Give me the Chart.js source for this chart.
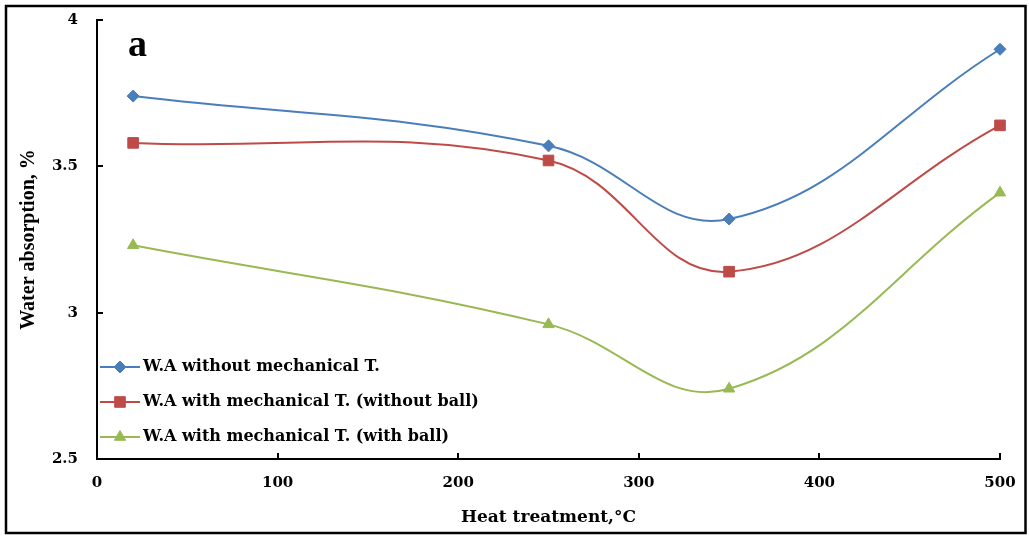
<!DOCTYPE html>
<html>
<head>
<meta charset="utf-8">
<title>Water absorption vs heat treatment</title>
<script src="https://cdn.jsdelivr.net/npm/chart.js@4.4.0/dist/chart.umd.min.js"></script>
<style>
  html, body { margin: 0; padding: 0; background: #fff; }
  #waChart { display: block; }
</style>
</head>
<body>
<canvas id="waChart" width="1029" height="536"></canvas>
<script>
// heat treatment temperature (°C)
const temperatures = [20, 250, 350, 500];
// water absorption (%)
const waWithout = [3.74, 3.57, 3.32, 3.90];
const waNoBall = [3.58, 3.52, 3.14, 3.64];
const waBall = [3.23, 2.96, 2.74, 3.41];
const seriesNames = [
  'W.A without mechanical T.',
  'W.A with mechanical T. (without ball)',
  'W.A with mechanical T. (with ball)'
];
const xTicks = [0, 100, 200, 300, 400, 500];
const yTicks = [2.5, 3, 3.5, 4];

const WIDE = "'DejaVu Serif', serif";
const TIMES = "'Liberation Serif', 'Times New Roman', serif";

window.onload = main;

function main(){
    Chart.defaults.font.family = WIDE;
    Chart.defaults.font.weight = 'bold';
    Chart.defaults.color = '#000';
    lineChart();
}

function toPoints(values){
    return temperatures.map(function(t, i){ return {x: t, y: values[i]}; });
}

function serie(label, values, color, style, radius){
    return {
        label           : label,
        data            : toPoints(values),
        borderColor     : color,
        backgroundColor : color,
        borderWidth     : 2,
        pointStyle      : style,
        pointRadius     : radius,
        pointBorderWidth: 1,
        tension         : 0.4,
        clip            : false
    };
}

// frame, inner ticks, legend and panel letter
var extras = {
    id: 'extras',
    beforeDraw: function(chart){
        var ctx = chart.ctx;
        ctx.save();
        ctx.fillStyle = '#fff';
        ctx.fillRect(0, 0, chart.width, chart.height);
        ctx.restore();
    },
    afterDraw: function(chart){
        var ctx = chart.ctx;
        var area = chart.chartArea;
        var sx = chart.scales.x, sy = chart.scales.y;

        ctx.save();
        ctx.strokeStyle = '#000';
        ctx.lineWidth = 2;
        ctx.beginPath();
        sx.ticks.forEach(function(t){
            var px = Math.round(sx.getPixelForValue(t.value));
            ctx.moveTo(px, area.bottom);
            ctx.lineTo(px, area.bottom - 6);
        });
        sy.ticks.forEach(function(t){
            var py = Math.round(sy.getPixelForValue(t.value));
            ctx.moveTo(area.left, py);
            ctx.lineTo(area.left + 6, py);
        });
        ctx.stroke();

        // legend inside the plot, lower left
        var lx = area.left + 3, ly = area.bottom - 92, step = 35;
        chart.data.datasets.forEach(function(ds, i){
            var y = ly + i * step;
            ctx.strokeStyle = ds.borderColor;
            ctx.fillStyle = ds.backgroundColor;
            ctx.lineWidth = 2;
            ctx.beginPath();
            ctx.moveTo(lx, y);
            ctx.lineTo(lx + 40, y);
            ctx.stroke();
            ctx.lineWidth = 1;
            Chart.helpers.drawPoint(ctx, {pointStyle: ds.pointStyle, radius: ds.pointRadius, rotation: 0, borderWidth: 1}, lx + 20, y);
            ctx.fillStyle = '#000';
            ctx.font = 'bold 16px ' + WIDE;
            ctx.textAlign = 'left';
            ctx.textBaseline = 'middle';
            ctx.fillText(ds.label, lx + 43, y);
        });

        ctx.font = 'bold 38px ' + TIMES;
        ctx.textBaseline = 'alphabetic';
        ctx.fillText('a', area.left + 31, area.top + 36);

        ctx.strokeStyle = '#000';
        ctx.lineWidth = 2.5;
        ctx.strokeRect(6, 6, 1019.5, 527);
        ctx.restore();
    }
};

function lineChart(){
    var canvas = document.getElementById('waChart').getContext('2d');

    var data = {
        datasets: [
            serie(seriesNames[0], waWithout, '#4A7EBB', 'rectRot', 6),
            serie(seriesNames[1], waNoBall, '#BE4B48', 'rect', 7.5),
            serie(seriesNames[2], waBall, '#98B954', 'triangle', 6.5)
        ]
    };

    var options = {
        responsive : false,
        animation  : false,
        devicePixelRatio: 1,
        layout: { padding: { top: 10, right: 29, bottom: 0, left: 0 } },
        plugins: {
            legend : { display: false },
            tooltip: { enabled: false }
        },
        scales: {
            x: {
                type: 'linear',
                min : 0,
                max : 500,
                afterBuildTicks: function(s){ s.ticks = xTicks.map(function(v){ return {value: v}; }); },
                afterFit: function(s){ s.height = 77; },
                grid  : { display: false },
                border: { display: true, color: '#000', width: 2 },
                ticks : { font: { size: 15, weight: 'bold' }, padding: 7, maxRotation: 0,
                          callback: function(v){ return String(v); } },
                title : { display: true, text: 'Heat treatment,°C', font: { size: 17, weight: 'bold' }, padding: { top: 0, bottom: 8 } }
            },
            y: {
                type: 'linear',
                min : 2.5,
                max : 4,
                afterBuildTicks: function(s){ s.ticks = yTicks.map(function(v){ return {value: v}; }); },
                afterFit: function(s){ s.width = 97; },
                grid  : { display: false },
                border: { display: true, color: '#000', width: 2 },
                ticks : { font: { size: 15, weight: 'bold' }, padding: 11,
                          callback: function(v){ return String(v); } },
                title : { display: true, text: 'Water absorption, %', font: { family: TIMES, size: 20, weight: 'bold' }, padding: { top: 17, bottom: 0 } }
            }
        }
    };

    new Chart(canvas, {
        type   : 'line',
        data   : data,
        options: options,
        plugins: [extras]
    });
}
</script>
</body>
</html>
